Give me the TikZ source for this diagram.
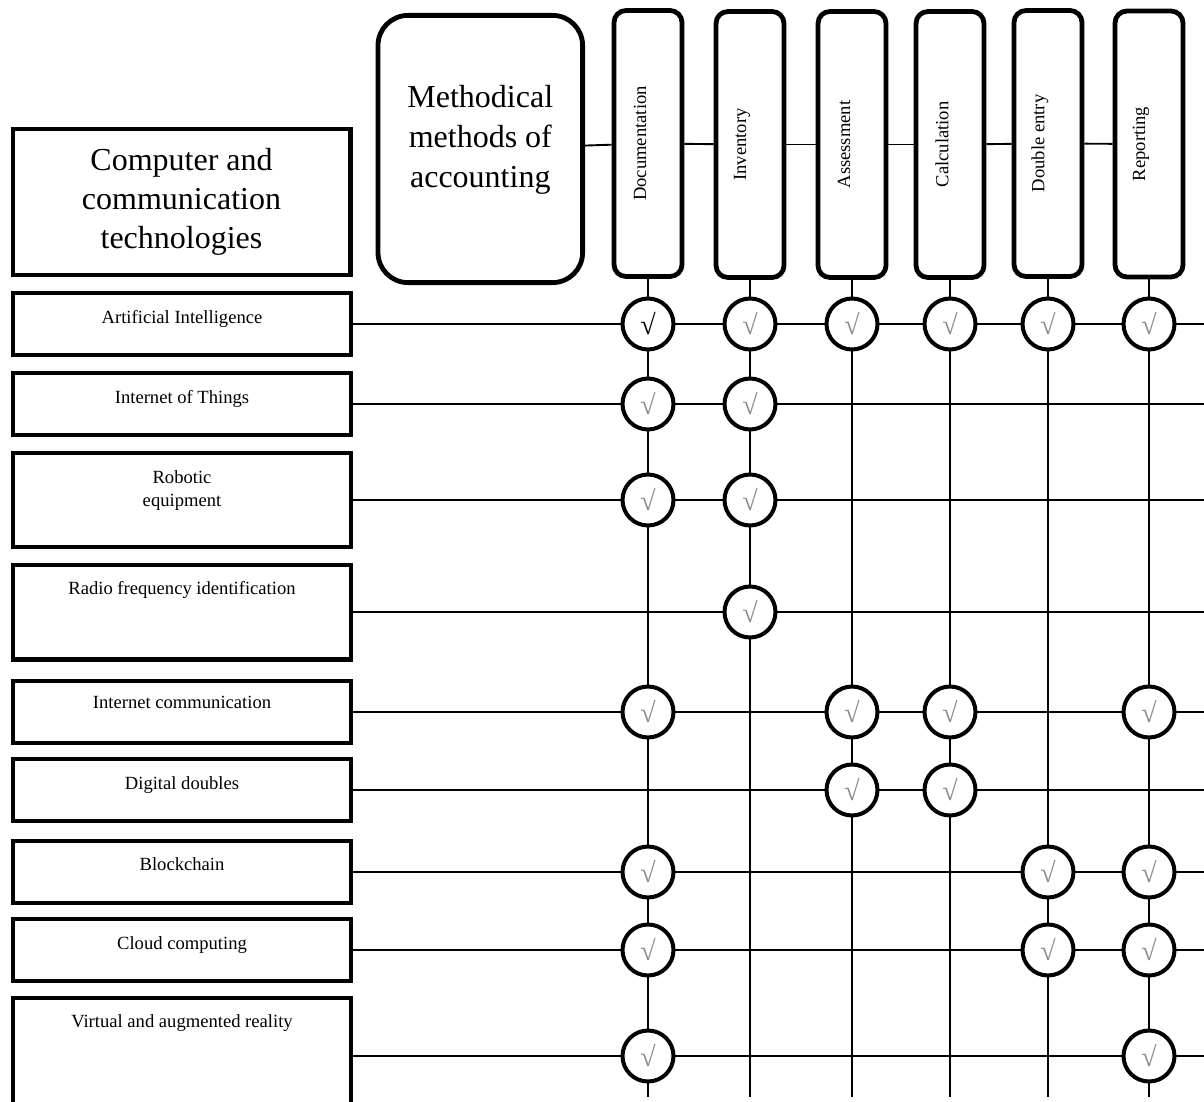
\documentclass[tikz,border=0pt]{standalone}
\usepackage{fontspec}
\setmainfont{Liberation Serif}
\usepackage{graphicx}
\begin{document}
\begin{tikzpicture}[x=0.5pt,y=-0.5pt,
  techbox/.style={draw, line width=2.2pt, minimum width=168.8pt, inner sep=0pt},
  techlbl/.style={anchor=center, font=\fontsize{9.3}{11.5}\selectfont, align=center},
  bigtxt/.style={font=\fontsize{16}{19.5}\selectfont, align=center},
  methbox/.style={draw, line width=2.4pt, rounded corners=6pt, minimum width=34pt, minimum height=133pt, inner sep=0pt},
  methlbl/.style={xshift=-4pt, rotate=90, anchor=center, font=\fontsize{9.3}{11.5}\selectfont},
  conn/.style={line width=0.95pt},
  chk/.style={circle, draw, line width=2pt, fill=white, minimum size=25.5pt, inner sep=0pt, font=\fontsize{14}{14}\selectfont, text=black!45}
]
\useasboundingbox (0,0) rectangle (1204,1102);
\clip (0,0) rectangle (1204,1102);

\coordinate (R) at (1204,0);
\coordinate (B) at (0,1097);

% left column
\node[techbox, minimum height=72.8pt, bigtxt] (cct) at (181.5,202) {Computer and\\communication\\technologies};
\node[techbox, minimum height=30.8pt, label={[techlbl,yshift=-14pt]north:Artificial Intelligence}] (ai) at (182,324) {};
\node[techbox, minimum height=30.8pt, label={[techlbl,yshift=-14pt]north:Internet of Things}] (iot) at (182,404) {};
\node[techbox, minimum height=46.8pt, label={[techlbl,yshift=-19.75pt]north:Robotic\\equipment}] (rob) at (182,500) {};
\node[techbox, minimum height=47.3pt, label={[techlbl,yshift=-13.5pt]north:Radio frequency identification}] (rfid) at (182,612) {};
\node[techbox, minimum height=30.8pt, label={[techlbl,yshift=-11.5pt]north:Internet communication}] (inet) at (182,712) {};
\node[techbox, minimum height=30.8pt, label={[techlbl,yshift=-14pt]north:Digital doubles}] (dd) at (182,790) {};
\node[techbox, minimum height=30.8pt, label={[techlbl,yshift=-12.5pt]north:Blockchain}] (blk) at (182,872) {};
\node[techbox, minimum height=30.8pt, label={[techlbl,yshift=-14pt]north:Cloud computing}] (cld) at (182,950) {};
\node[techbox, minimum height=57.8pt, label={[techlbl,yshift=-13.5pt]north:Virtual and augmented reality}] (vr) at (182,1056) {};

% top row
\node[draw, line width=2.4pt, rounded corners=15pt, minimum width=102.3pt, minimum height=133.6pt, inner sep=0pt,
  label={[font=\fontsize{16}{20}\selectfont, align=center, anchor=center, yshift=4.5pt]center:Methodical\\methods of\\accounting}] (meth) at (480.3,149) {};
\node[methbox, label={[methlbl]center:Documentation}] (doc) at (648,143.5) {};
\node[methbox, label={[methlbl]center:Inventory}] (inv) at (750,144.5) {};
\node[methbox, label={[methlbl]center:Assessment}] (ass) at (852,144.5) {};
\node[methbox, label={[methlbl]center:Calculation}] (calc) at (950,144.5) {};
\node[methbox, label={[methlbl]center:Double entry}] (dbl) at (1048,143.5) {};
\node[methbox, label={[methlbl]center:Reporting}] (rep) at (1149,144) {};

% connectors
\draw[conn] (meth) -- (doc);
\draw[conn] (doc) -- (inv);
\draw[conn] (inv) -- (ass);
\draw[conn] (ass) -- (calc);
\draw[conn] (calc) -- (dbl);
\draw[conn] (dbl) -- (rep);

\foreach \r in {ai,iot,rob,rfid,inet,dd,blk,cld,vr}
  \draw[conn] (\r.east) -- (\r.east -| R);
\foreach \c in {doc,inv,ass,calc,dbl,rep}
  \draw[conn] (\c.south) -- (\c.south |- B);

% check marks
\node[chk, text=black] (ai-doc) at (doc |- ai) {√};
\foreach \r/\c in {ai/inv,ai/ass,ai/calc,ai/dbl,ai/rep,
                   iot/doc,iot/inv,rob/doc,rob/inv,rfid/inv,
                   inet/doc,inet/ass,inet/calc,inet/rep,
                   dd/ass,dd/calc,
                   blk/doc,blk/dbl,blk/rep,
                   cld/doc,cld/dbl,cld/rep,
                   vr/doc,vr/rep}
  \node[chk] (\r-\c) at (\c |- \r) {√};
\end{tikzpicture}
\end{document}
